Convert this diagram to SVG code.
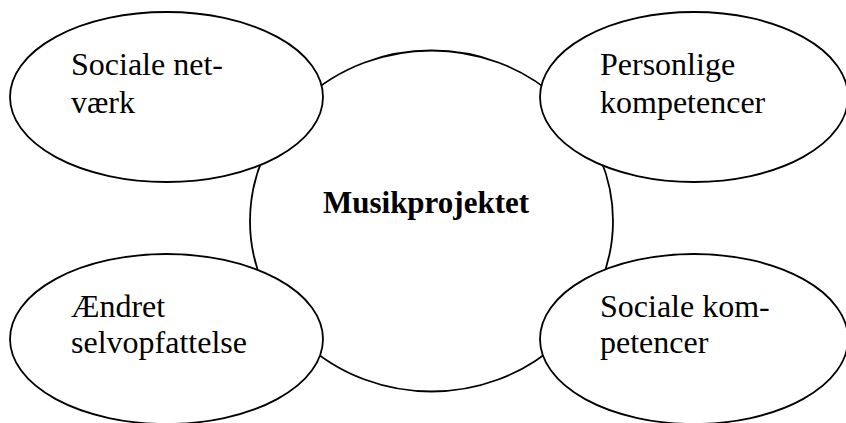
<svg xmlns="http://www.w3.org/2000/svg" width="846" height="423" viewBox="0 0 846 423">
<style>
.shape{fill:#fff;stroke:#000;stroke-width:1.8}
.lbl{font-family:"Liberation Serif","Times New Roman",serif;font-size:32px;fill:#000}
.bold{font-weight:bold;font-size:31px}
</style>
<rect width="846" height="423" fill="#fff"/>
<g id="connectors"></g>
<g id="center">
<ellipse class="shape" cx="431.5" cy="221" rx="181.5" ry="170.5"/>
<text class="lbl bold" x="426" y="213" text-anchor="middle">Musikprojektet</text>
</g>
<g id="sociale-netvaerk">
<ellipse class="shape" cx="166.5" cy="97" rx="156.5" ry="85"/>
<text class="lbl" x="71" y="75">Sociale net-</text>
<text class="lbl" x="71" y="113">værk</text>
</g>
<g id="personlige-kompetencer">
<ellipse class="shape" cx="694" cy="97" rx="154" ry="85"/>
<text class="lbl" x="600" y="75">Personlige</text>
<text class="lbl" x="600" y="113">kompetencer</text>
</g>
<g id="aendret-selvopfattelse">
<ellipse class="shape" cx="166.5" cy="339" rx="156.5" ry="85"/>
<text class="lbl" x="71" y="317">Ændret</text>
<text class="lbl" x="71" y="353">selvopfattelse</text>
</g>
<g id="sociale-kompetencer">
<ellipse class="shape" cx="694" cy="339" rx="154" ry="85"/>
<text class="lbl" x="600" y="317">Sociale kom-</text>
<text class="lbl" x="600" y="353">petencer</text>
</g>
</svg>
